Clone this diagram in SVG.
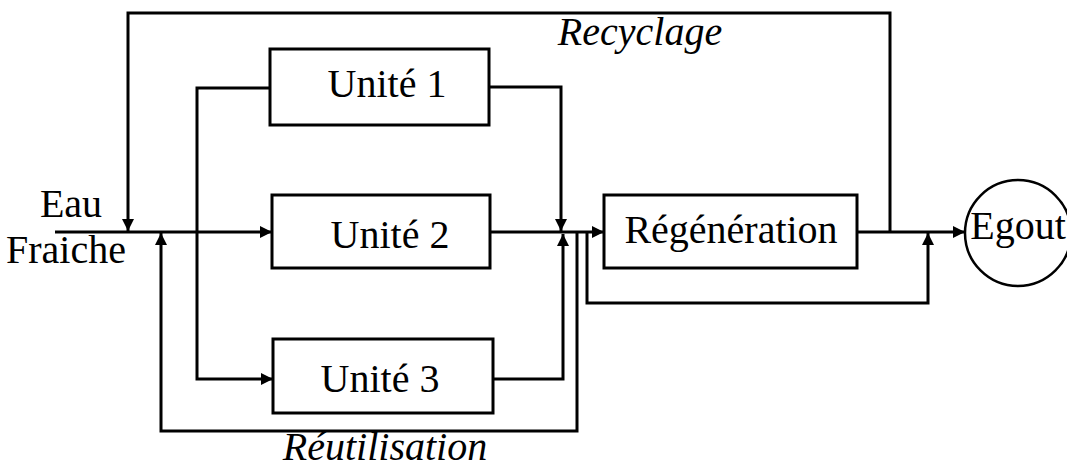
<svg xmlns="http://www.w3.org/2000/svg" width="1067" height="467" viewBox="0 0 1067 467">
  <style>
    .box { fill: #fff; stroke: #000; stroke-width: 3; }
    .flow { fill: none; stroke: #000; stroke-width: 3; stroke-linejoin: miter; }
    .lbl { font-family: "Liberation Serif", "Times New Roman", serif; font-size: 40px; fill: #000; }
    .it { font-style: italic; }
  </style>
  <defs>
    <marker id="arrow" viewBox="0 0 12 12" refX="12" refY="6" markerWidth="12" markerHeight="12" markerUnits="userSpaceOnUse" orient="auto">
      <path d="M0,0 L12,6 L0,12 Z" fill="#000"/>
    </marker>
  </defs>
  <rect width="1067" height="467" fill="#fff"/>

  <g id="connectors">
    <!-- fresh water to unit 2 -->
    <path class="flow" d="M55,232 H272" marker-end="url(#arrow)"/>
    <!-- split to units 1 and 3 -->
    <path class="flow" d="M270,88 H197 V379 H273" marker-end="url(#arrow)"/>
    <!-- unit 1 outlet -->
    <path class="flow" d="M489,87 H561 V231" marker-end="url(#arrow)"/>
    <!-- unit 3 outlet -->
    <path class="flow" d="M493,379 H563 V234" marker-end="url(#arrow)"/>
    <!-- collector to regeneration -->
    <path class="flow" d="M490,232 H604" marker-end="url(#arrow)"/>
    <!-- reuse loop -->
    <path class="flow" d="M577,232 V431 H161 V233" marker-end="url(#arrow)"/>
    <!-- regeneration bypass -->
    <path class="flow" d="M587,232 V303 H928 V233" marker-end="url(#arrow)"/>
    <!-- regeneration outlet to sewer -->
    <path class="flow" d="M857,232 H965" marker-end="url(#arrow)"/>
    <!-- recycle loop -->
    <path class="flow" d="M890,232 V13 H128 V231" marker-end="url(#arrow)"/>
  </g>

  <g id="eau-fraiche">
    <text class="lbl" x="71" y="217" text-anchor="middle">Eau</text>
    <text class="lbl" x="66" y="263" text-anchor="middle">Fraiche</text>
  </g>

  <g id="unite1">
    <rect class="box" x="270" y="49" width="219" height="76"/>
    <text class="lbl" x="387" y="97" text-anchor="middle">Unité 1</text>
  </g>

  <g id="unite2">
    <rect class="box" x="272" y="195" width="218" height="73"/>
    <text class="lbl" x="390" y="248" text-anchor="middle">Unité 2</text>
  </g>

  <g id="unite3">
    <rect class="box" x="273" y="339" width="220" height="74"/>
    <text class="lbl" x="380" y="392" text-anchor="middle">Unité 3</text>
  </g>

  <g id="regeneration">
    <rect class="box" x="604" y="195" width="253" height="73"/>
    <text class="lbl" x="731" y="243" text-anchor="middle">Régénération</text>
  </g>

  <g id="egout">
    <circle cx="1018" cy="233" r="53" fill="#fff" stroke="#000" stroke-width="2.5"/>
    <text class="lbl" x="1018" y="239" text-anchor="middle">Egout</text>
  </g>

  <g id="labels">
    <text class="lbl it" x="640" y="45" text-anchor="middle">Recyclage</text>
    <text class="lbl it" x="385" y="460" text-anchor="middle">Réutilisation</text>
  </g>
</svg>
